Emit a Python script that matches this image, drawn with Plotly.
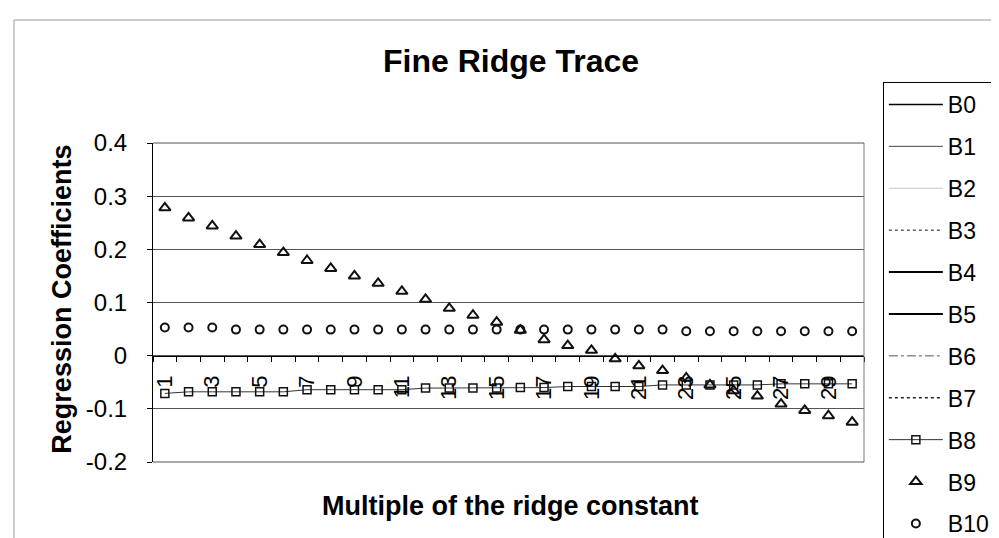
import plotly.graph_objects as go

# ridge multiples on the x axis
multiples = list(range(1, 31))
x_tick_vals = list(range(1, 30, 2))
x_tick_text = [str(v) for v in x_tick_vals]

y_tick_vals = [-0.2, -0.1, 0, 0.1, 0.2, 0.3, 0.4]
y_tick_text = ["-0.2", "-0.1", "0", "0.1", "0.2", "0.3", "0.4"]

# B0..B7 fall outside the visible range: only their legend entries show
line_series = ["B0", "B1", "B2", "B3", "B4", "B5", "B6", "B7"]

b8 = [-0.071, -0.068, -0.068, -0.068, -0.068, -0.068, -0.064, -0.064, -0.064, -0.064,
      -0.064, -0.061, -0.061, -0.061, -0.061, -0.060, -0.060, -0.058, -0.058, -0.058,
      -0.058, -0.055, -0.055, -0.055, -0.055, -0.055, -0.053, -0.053, -0.053, -0.053]
b9 = [0.278, 0.259, 0.244, 0.225, 0.209, 0.194, 0.179, 0.164, 0.150, 0.136,
      0.121, 0.106, 0.089, 0.076, 0.063, 0.048, 0.030, 0.019, 0.010, -0.006,
      -0.019, -0.028, -0.042, -0.055, -0.066, -0.076, -0.091, -0.103, -0.113, -0.125]
b10 = [0.053, 0.053, 0.053, 0.049, 0.049, 0.049, 0.049, 0.049, 0.049, 0.049,
       0.049, 0.049, 0.049, 0.049, 0.049, 0.049, 0.049, 0.049, 0.049, 0.049,
       0.049, 0.049, 0.046, 0.046, 0.046, 0.046, 0.046, 0.046, 0.046, 0.046]

FONT = "Arial, Liberation Sans, sans-serif"
line_styles = [
    {"color": "#000000", "width": 1.5},
    {"color": "#444444", "width": 1},
    {"color": "#c8c8c8", "width": 1},
    {"color": "#666666", "width": 1.5, "dash": "dot"},
    {"color": "#000000", "width": 2},
    {"color": "#000000", "width": 2},
    {"color": "#555555", "width": 1, "dash": "dashdot"},
    {"color": "#222222", "width": 1.5, "dash": "dot"},
]

fig = go.Figure()
for name, style in zip(line_series, line_styles):
    fig.add_trace(go.Scatter(
        x=multiples, y=[None] * len(multiples), name=name, mode="lines",
        line=style, legendgroup=name,
    ))

fig.add_trace(go.Scatter(
    x=multiples, y=b8, name="B8", mode="lines+markers", legendgroup="B8",
    line={"color": "#333333", "width": 1},
    marker={"symbol": "square-open", "size": 8, "color": "#111111",
            "line": {"width": 1.5}},
))
fig.add_trace(go.Scatter(
    x=multiples, y=b9, name="B9", mode="markers", legendgroup="B9",
    marker={"symbol": "triangle-up-open", "size": 10, "color": "#111111",
            "line": {"width": 2}},
))
fig.add_trace(go.Scatter(
    x=multiples, y=b10, name="B10", mode="markers", legendgroup="B10",
    marker={"symbol": "circle-open", "size": 8, "color": "#111111",
            "line": {"width": 2}},
))

y_min, y_max = -0.2, 0.4


# paper coordinates from pixel positions of the 716x319 plot area
def px(x):
    return (x - 145) / 716


def py(y):
    return (454 - y) / 319


grid = {"color": "#555555", "width": 1}

fig.update_layout(
    width=999, height=538,
    margin={"l": 145, "r": 138, "t": 135, "b": 84},
    paper_bgcolor="white", plot_bgcolor="white",
    font={"family": FONT, "color": "black"},
    title={"text": "<b>Fine Ridge Trace</b>", "x": 503 / 999, "xanchor": "center",
           "y": 1 - 53 / 538, "yanchor": "middle", "font": {"size": 32}},
    xaxis={"range": [0.5, 30.5], "anchor": "free",
           "position": (0 - y_min) / (y_max - y_min),
           "tickmode": "array", "tickvals": x_tick_vals, "ticktext": x_tick_text,
           "tickangle": -90, "tickfont": {"size": 22}, "ticks": "",
           "ticklabelstandoff": 10,
           "minor": {"tick0": 0.5, "dtick": 1, "ticks": "outside", "ticklen": 5,
                     "tickcolor": "black", "showgrid": False},
           "showgrid": False, "zeroline": False,
           "showline": True, "linecolor": "black", "linewidth": 1},
    yaxis={"range": [y_min, y_max], "tickmode": "array", "tickvals": y_tick_vals,
           "ticktext": y_tick_text, "tickfont": {"size": 24},
           "ticks": "outside", "ticklen": 5, "tickcolor": "black",
           "ticklabelstandoff": 15,
           "showgrid": True, "gridcolor": "#555555", "gridwidth": 1,
           "zeroline": False, "showline": True, "linecolor": "black"},
    legend={"x": px(880), "y": py(85), "xanchor": "left", "yanchor": "top",
            "bgcolor": "white", "bordercolor": "black", "borderwidth": 1,
            "font": {"size": 23}, "itemwidth": 54, "tracegroupgap": 9,
            "traceorder": "grouped", "maxheight": 1000},
    showlegend=True,
    annotations=[
        {"text": "<b>Regression Coefficients</b>", "xref": "paper", "yref": "paper",
         "x": px(53), "y": py(291), "textangle": -90, "showarrow": False,
         "font": {"size": 27}, "xanchor": "center", "yanchor": "middle"},
        {"text": "<b>Multiple of the ridge constant</b>", "xref": "paper",
         "yref": "paper", "x": px(505), "y": py(498), "showarrow": False,
         "font": {"size": 27}, "xanchor": "center", "yanchor": "middle"},
    ],
    shapes=[
        {"type": "rect", "xref": "paper", "yref": "paper", "x0": px(5), "x1": 1.4,
         "y0": -0.5, "y1": py(12), "line": {"color": "#999999", "width": 1},
         "layer": "below"},
        {"type": "line", "xref": "paper", "yref": "paper", "x0": 1, "x1": 1,
         "y0": 0, "y1": 1, "line": {"color": "#777777", "width": 1}},
        {"type": "line", "xref": "paper", "yref": "paper", "x0": 0, "x1": 1,
         "y0": 1, "y1": 1, "line": grid},
        {"type": "line", "xref": "paper", "yref": "paper", "x0": 0, "x1": 1,
         "y0": 0, "y1": 0, "line": grid},
    ],
)

fig.write_html("out.html")
